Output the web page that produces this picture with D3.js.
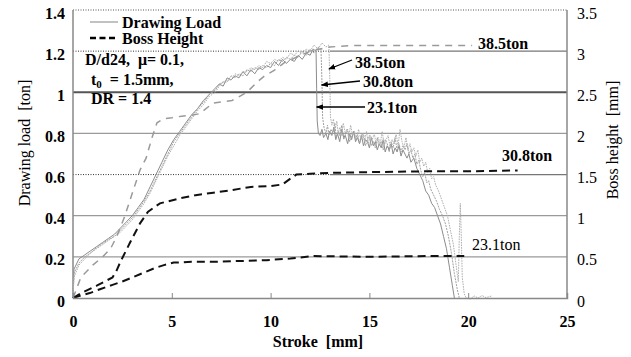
<!DOCTYPE html>
<html>
<head>
<meta charset="utf-8">
<script src="https://cdn.jsdelivr.net/npm/d3@7"></script>
<style>
  body { margin: 0; background: #fff; }
</style>
</head>
<body>
<svg id="chart" width="631" height="357"></svg>
<script>
// stroke [mm] vs drawing load [ton], one array per blank holding force
const load23 = [[0,0],[0.05,0.14],[0.3,0.19],[0.6,0.21],[0.9,0.23],[1.2,0.25],[1.5,0.27],[1.8,0.29],[2.1,0.31],[2.4,0.34],[2.7,0.37],[3.0,0.40],[3.3,0.44],[3.6,0.48],[3.9,0.54],[4.2,0.60],[4.5,0.66],[4.8,0.72],[5.1,0.77],[5.4,0.81],[5.7,0.85],[6.0,0.89],[6.3,0.92],[6.6,0.96],[6.9,0.99],[7.2,1.02],[7.4,1.04],[7.6,1.03],[7.8,1.07],[8.0,1.06],[8.2,1.08],[8.4,1.07],[8.6,1.10],[8.8,1.08],[9.0,1.11],[9.2,1.09],[9.4,1.12],[9.6,1.11],[9.8,1.13],[10.0,1.12],[10.2,1.15],[10.4,1.13],[10.6,1.16],[10.8,1.14],[11.0,1.16],[11.2,1.15],[11.4,1.18],[11.6,1.16],[11.8,1.19],[12.0,1.18],[12.15,1.21],[12.3,1.20],[12.33,1.02],[12.36,0.86],[12.42,0.80],[12.5,0.79],[12.6,0.82],[12.68,0.78],[12.8,0.80],[12.9,0.77],[12.98,0.81],[13.1,0.79],[13.2,0.83],[13.3,0.77],[13.38,0.80],[13.5,0.76],[13.6,0.82],[13.7,0.78],[13.78,0.79],[13.9,0.75],[14.0,0.80],[14.1,0.77],[14.2,0.81],[14.3,0.76],[14.4,0.78],[14.5,0.75],[14.6,0.79],[14.7,0.74],[14.8,0.77],[14.9,0.76],[15.0,0.73],[15.1,0.78],[15.2,0.74],[15.3,0.76],[15.4,0.72],[15.5,0.75],[15.6,0.73],[15.7,0.77],[15.8,0.71],[15.9,0.74],[16.0,0.72],[16.1,0.75],[16.2,0.70],[16.3,0.73],[16.4,0.71],[16.5,0.74],[16.6,0.69],[16.7,0.72],[16.8,0.70],[16.9,0.68],[17.0,0.70],[17.1,0.66],[17.25,0.68],[17.4,0.63],[17.55,0.60],[17.7,0.57],[17.85,0.52],[18.0,0.50],[18.15,0.46],[18.3,0.44],[18.45,0.40],[18.6,0.36],[18.75,0.30],[18.9,0.24],[19.05,0.15],[19.2,0.06],[19.3,0.0]];
const load31 = [[0,0],[0.05,0.12],[0.3,0.17],[0.6,0.20],[0.9,0.22],[1.2,0.245],[1.5,0.265],[1.8,0.285],[2.1,0.30],[2.4,0.33],[2.7,0.36],[3.0,0.39],[3.3,0.43],[3.6,0.47],[3.9,0.52],[4.2,0.58],[4.5,0.64],[4.8,0.70],[5.1,0.76],[5.4,0.80],[5.7,0.84],[6.0,0.88],[6.3,0.92],[6.6,0.95],[6.9,0.99],[7.2,1.01],[7.4,1.04],[7.6,1.05],[7.8,1.05],[8.0,1.08],[8.2,1.07],[8.4,1.09],[8.6,1.08],[8.8,1.11],[9.0,1.10],[9.2,1.12],[9.4,1.11],[9.6,1.13],[9.8,1.12],[10.0,1.14],[10.2,1.13],[10.4,1.16],[10.6,1.15],[10.8,1.17],[11.0,1.16],[11.2,1.18],[11.4,1.17],[11.6,1.20],[11.8,1.18],[12.0,1.21],[12.2,1.19],[12.4,1.22],[12.55,1.21],[12.6,1.05],[12.63,0.88],[12.7,0.83],[12.8,0.80],[12.88,0.84],[12.95,0.79],[13.05,0.82],[13.15,0.80],[13.25,0.85],[13.32,0.78],[13.42,0.81],[13.5,0.79],[13.6,0.84],[13.7,0.77],[13.8,0.80],[13.9,0.82],[14.0,0.76],[14.1,0.79],[14.2,0.81],[14.3,0.77],[14.4,0.80],[14.5,0.75],[14.6,0.78],[14.7,0.80],[14.8,0.74],[14.9,0.77],[15.0,0.79],[15.1,0.74],[15.2,0.76],[15.3,0.73],[15.4,0.78],[15.5,0.74],[15.6,0.76],[15.7,0.72],[15.8,0.77],[15.9,0.75],[16.0,0.71],[16.1,0.76],[16.2,0.73],[16.3,0.78],[16.4,0.72],[16.5,0.75],[16.6,0.71],[16.7,0.74],[16.8,0.72],[16.9,0.75],[17.0,0.70],[17.1,0.72],[17.2,0.68],[17.3,0.70],[17.4,0.65],[17.5,0.67],[17.6,0.62],[17.7,0.59],[17.8,0.61],[17.9,0.56],[18.0,0.57],[18.1,0.53],[18.25,0.50],[18.4,0.47],[18.55,0.43],[18.7,0.40],[18.85,0.36],[19.0,0.30],[19.15,0.22],[19.3,0.12],[19.45,0.04],[19.55,0.0]];
const load38 = [[0,0],[0.05,0.10],[0.3,0.16],[0.6,0.19],[0.9,0.22],[1.2,0.24],[1.5,0.26],[1.8,0.28],[2.1,0.30],[2.4,0.32],[2.7,0.35],[3.0,0.38],[3.3,0.42],[3.6,0.46],[3.9,0.51],[4.2,0.57],[4.5,0.63],[4.8,0.69],[5.1,0.74],[5.4,0.79],[5.7,0.83],[6.0,0.87],[6.3,0.91],[6.6,0.94],[6.9,0.98],[7.2,1.00],[7.4,1.03],[7.6,1.05],[7.8,1.06],[8.0,1.06],[8.2,1.09],[8.4,1.08],[8.6,1.10],[8.8,1.10],[9.0,1.12],[9.2,1.11],[9.4,1.13],[9.6,1.12],[9.8,1.15],[10.0,1.14],[10.2,1.16],[10.4,1.15],[10.6,1.17],[10.8,1.16],[11.0,1.19],[11.2,1.18],[11.4,1.20],[11.6,1.19],[11.8,1.21],[12.0,1.20],[12.2,1.23],[12.4,1.21],[12.6,1.24],[12.8,1.22],[12.95,1.23],[13.0,1.05],[13.03,0.88],[13.1,0.84],[13.18,0.87],[13.25,0.81],[13.35,0.86],[13.42,0.80],[13.5,0.83],[13.6,0.79],[13.68,0.85],[13.78,0.80],[13.85,0.82],[13.95,0.78],[14.05,0.84],[14.15,0.79],[14.25,0.81],[14.35,0.77],[14.45,0.82],[14.55,0.78],[14.65,0.80],[14.75,0.76],[14.85,0.81],[14.95,0.75],[15.05,0.79],[15.15,0.77],[15.25,0.80],[15.35,0.74],[15.45,0.78],[15.55,0.75],[15.65,0.81],[15.75,0.74],[15.85,0.77],[15.95,0.79],[16.05,0.73],[16.15,0.77],[16.25,0.75],[16.35,0.80],[16.45,0.74],[16.55,0.82],[16.65,0.76],[16.75,0.73],[16.85,0.78],[16.95,0.72],[17.05,0.75],[17.15,0.71],[17.25,0.73],[17.35,0.69],[17.45,0.72],[17.55,0.66],[17.65,0.68],[17.75,0.64],[17.85,0.66],[17.95,0.61],[18.05,0.63],[18.15,0.58],[18.25,0.59],[18.35,0.55],[18.5,0.52],[18.65,0.48],[18.8,0.44],[18.95,0.40],[19.1,0.33],[19.25,0.26],[19.4,0.15],[19.5,0.08],[19.55,0.30],[19.6,0.46],[19.65,0.30],[19.7,0.10],[19.8,0.02],[19.9,0.0],[20.1,-0.005],[20.3,0.01],[20.5,0.0],[20.7,0.012],[20.9,0.002],[21.2,0.01]];

// stroke [mm] vs boss height [mm]
const boss23 = [[0,0],[0.4,0.03],[0.85,0.06],[1.4,0.11],[2.0,0.16],[2.5,0.20],[3.0,0.25],[3.5,0.30],[4.1,0.36],[4.6,0.40],[5.1,0.43],[5.6,0.435],[6.0,0.44],[7.1,0.44],[8.5,0.45],[9.8,0.46],[11.0,0.48],[12.2,0.51],[13.5,0.505],[15.0,0.50],[16.5,0.505],[18.0,0.51],[19.8,0.51]];
const boss31 = [[0,0],[0.5,0.07],[1.2,0.15],[2.0,0.25],[2.2,0.33],[2.4,0.44],[2.9,0.68],[3.4,0.91],[3.8,1.05],[4.4,1.15],[5.4,1.21],[6.2,1.25],[7.1,1.28],[8.0,1.31],[9.0,1.35],[10.0,1.36],[10.6,1.38],[11.0,1.45],[11.3,1.50],[12.0,1.51],[13.0,1.52],[15.0,1.53],[18.0,1.54],[20.0,1.54],[22.5,1.55]];
const boss38 = [[0,0],[0.4,0.25],[1.0,0.40],[1.5,0.50],[1.9,0.60],[2.2,0.74],[2.6,0.98],[3.05,1.31],[3.4,1.56],[3.7,1.70],[4.0,1.95],[4.25,2.13],[4.6,2.18],[5.0,2.19],[5.5,2.21],[6.0,2.22],[6.4,2.24],[7.1,2.37],[8.05,2.40],[8.8,2.50],[9.3,2.62],[9.65,2.69],[10.2,2.77],[10.7,2.86],[11.35,2.93],[12.0,3.00],[13.0,3.05],[14.1,3.07],[16.0,3.07],[18.0,3.07],[20.2,3.07]];

const xTicks = [0, 5, 10, 15, 20, 25];
const loadTicks = [0, 0.2, 0.4, 0.6, 0.8, 1, 1.2, 1.4];
const bossTicks = [0, 0.5, 1, 1.5, 2, 2.5, 3, 3.5];
const gridSolid = [0.2, 0.4, 0.8];
const gridDotted = [0.6, 1.2];
const forceLabels = ["23.1ton", "30.8ton", "38.5ton"];

const serif = '"Liberation Serif", "Times New Roman", serif';
const svg = d3.select("#chart").style("font-family", serif);
const mLeft = 73, mRight = 567, mTop = 10, mBottom = 298;

const x = d3.scaleLinear().domain([0, 25]).range([mLeft, mRight]);
const yL = d3.scaleLinear().domain([0, 1.4]).range([mBottom, mTop]);
const yR = d3.scaleLinear().domain([0, 3.5]).range([mBottom, mTop]);

// arrow head
svg.append("defs").append("marker")
  .attr("id", "arrow")
  .attr("viewBox", "0 0 10 10")
  .attr("refX", 9).attr("refY", 5)
  .attr("markerWidth", 7).attr("markerHeight", 7)
  .attr("markerUnits", "userSpaceOnUse")
  .attr("orient", "auto")
  .append("path").attr("d", "M0,1 L10,5 L0,9 z").attr("fill", "#000");

// grid
const grid = svg.append("g");
grid.selectAll(".gs").data(gridSolid).enter().append("line")
  .attr("x1", mLeft).attr("x2", mRight)
  .attr("y1", d => yL(d)).attr("y2", d => yL(d))
  .attr("stroke", "#9a9a9a").attr("stroke-width", 1.2);
grid.append("line")
  .attr("x1", mLeft).attr("x2", mRight)
  .attr("y1", yL(1)).attr("y2", yL(1))
  .attr("stroke", "#555").attr("stroke-width", 2);
grid.selectAll(".gd").data(gridDotted).enter().append("line")
  .attr("x1", mLeft).attr("x2", x(13))
  .attr("y1", d => yL(d)).attr("y2", d => yL(d))
  .attr("stroke", "#333").attr("stroke-width", 1).attr("stroke-dasharray", "1,1.5");
grid.selectAll(".gd2").data(gridDotted).enter().append("line")
  .attr("x1", x(13)).attr("x2", mRight)
  .attr("y1", d => yL(d)).attr("y2", d => yL(d))
  .attr("stroke", "#777").attr("stroke-width", 1.2);
grid.append("line")
  .attr("x1", mLeft).attr("x2", mRight)
  .attr("y1", yL(1.4)).attr("y2", yL(1.4))
  .attr("stroke", "#555").attr("stroke-width", 1).attr("stroke-dasharray", "1,1.5");

// frame
svg.append("line").attr("x1", mLeft).attr("x2", mLeft).attr("y1", mTop).attr("y2", mBottom)
  .attr("stroke", "#888").attr("stroke-width", 1.5);
svg.append("line").attr("x1", mRight).attr("x2", mRight).attr("y1", mTop).attr("y2", mBottom)
  .attr("stroke", "#888").attr("stroke-width", 1.5);

const lineL = d3.line().x(d => x(d[0])).y(d => yL(d[1]));
const lineR = d3.line().x(d => x(d[0])).y(d => yR(d[1]));

// drawing load curves
[[load23, "#8c8c8c", null], [load31, "#a0a0a0", "2,1"], [load38, "#b0b0b0", "1.6,1"]].forEach(([data, c, dash]) => {
  svg.append("path").datum(data)
    .attr("d", lineL)
    .attr("fill", "none")
    .attr("stroke", c)
    .attr("stroke-width", 1)
    .attr("stroke-dasharray", dash);
});

// boss height curves
svg.append("path").datum(boss38).attr("d", lineR)
  .attr("fill", "none").attr("stroke", "#9a9a9a").attr("stroke-width", 1.5)
  .attr("stroke-dasharray", "7,6");
[boss23, boss31].forEach(data => {
  svg.append("path").datum(data).attr("d", lineR)
    .attr("fill", "none").attr("stroke", "#111").attr("stroke-width", 2)
    .attr("stroke-dasharray", "8,5");
});

// axes
const xAxis = svg.append("g")
  .attr("transform", `translate(0,${mBottom})`)
  .call(d3.axisBottom(x).tickValues(xTicks).tickSize(-5).tickFormat(d3.format("~g")));
xAxis.attr("font-family", null);
xAxis.select(".domain").attr("stroke", "#888").attr("stroke-width", 1.5);
xAxis.selectAll(".tick line").attr("stroke", "#888");
xAxis.selectAll("text").attr("y", 29).attr("dy", 0)
  .attr("font-size", 16).attr("font-weight", "bold").attr("fill", "#000");

const yAxisL = svg.append("g")
  .attr("transform", `translate(${mLeft},0)`)
  .call(d3.axisLeft(yL).tickValues(loadTicks).tickSize(0).tickPadding(8).tickFormat(d3.format("~g")));
yAxisL.attr("font-family", null);
yAxisL.select(".domain").remove();
yAxisL.selectAll("text").attr("dy", "0.5em")
  .attr("font-size", 16).attr("font-weight", "bold").attr("fill", "#000");

const yAxisR = svg.append("g")
  .attr("transform", `translate(${mRight},0)`)
  .call(d3.axisRight(yR).tickValues(bossTicks).tickSize(0).tickPadding(10).tickFormat(d3.format("~g")));
yAxisR.attr("font-family", null);
yAxisR.select(".domain").remove();
yAxisR.selectAll("text").attr("dy", "0.5em")
  .attr("font-size", 16).attr("fill", "#000");

// axis titles
svg.append("text").attr("transform", "translate(24,143) rotate(-90)")
  .attr("text-anchor", "middle").attr("dominant-baseline", "central")
  .attr("font-size", 16).attr("xml:space", "preserve").text("Drawing load  [ton]");
svg.append("text").attr("transform", "translate(612,140) rotate(-90)")
  .attr("text-anchor", "middle").attr("dominant-baseline", "central")
  .attr("font-size", 16).attr("xml:space", "preserve").text("Boss height  [mm]");
svg.append("text").attr("x", (mLeft + mRight) / 2 - 2).attr("y", 347)
  .attr("text-anchor", "middle").attr("font-size", 16).attr("font-weight", "bold")
  .attr("xml:space", "preserve").text("Stroke  [mm]");

// legend
svg.append("line").attr("x1", 90).attr("x2", 118).attr("y1", 22).attr("y2", 22)
  .attr("stroke", "#999").attr("stroke-width", 1.2);
svg.append("line").attr("x1", 90).attr("x2", 118).attr("y1", 38).attr("y2", 38)
  .attr("stroke", "#000").attr("stroke-width", 2.5).attr("stroke-dasharray", "6,3.5");
svg.append("text").attr("x", 122).attr("y", 28).attr("font-size", 16).attr("font-weight", "bold").text("Drawing Load");
svg.append("text").attr("x", 122).attr("y", 44).attr("font-size", 16).attr("font-weight", "bold").text("Boss Height");

// conditions
const cond = svg.append("g").attr("font-size", 16).attr("font-weight", "bold");
cond.append("text").attr("x", 85).attr("y", 65).attr("xml:space", "preserve").text("D/d24,  \u03bc= 0.1,");
const t0 = cond.append("text").attr("x", 91).attr("y", 85).attr("xml:space", "preserve");
t0.append("tspan").text("t");
t0.append("tspan").attr("font-size", 11).attr("dy", 3).text("0");
t0.append("tspan").attr("dy", -3).text("  = 1.5mm,");
cond.append("text").attr("x", 91).attr("y", 104).text("DR = 1.4");

// arrows to the load drop of each force
const arrows = [
  { label: forceLabels[2], tx: 355, ty: 68, x1: 352, y1: 60, x2: x(12.95), y2: 69 },
  { label: forceLabels[1], tx: 363, ty: 87, x1: 360, y1: 81, x2: x(12.58), y2: 85 },
  { label: forceLabels[0], tx: 367, ty: 113, x1: 365, y1: 107, x2: x(12.33), y2: 107 }
];
arrows.forEach(a => {
  svg.append("line").attr("x1", a.x1).attr("y1", a.y1).attr("x2", a.x2).attr("y2", a.y2)
    .attr("stroke", "#000").attr("stroke-width", 1.3).attr("marker-end", "url(#arrow)");
  svg.append("text").attr("x", a.tx).attr("y", a.ty).attr("font-size", 16).attr("font-weight", "bold").text(a.label);
});

// boss height end labels
svg.append("text").attr("x", 478).attr("y", 49).attr("font-size", 16).attr("font-weight", "bold").text(forceLabels[2]);
svg.append("text").attr("x", 502).attr("y", 161).attr("font-size", 16).attr("font-weight", "bold").text(forceLabels[1]);
svg.append("text").attr("x", 472).attr("y", 250).attr("font-size", 16).text(forceLabels[0]);

// inline serif face on every label
svg.selectAll("text").style("font-family", serif);
</script>
</body>
</html>
